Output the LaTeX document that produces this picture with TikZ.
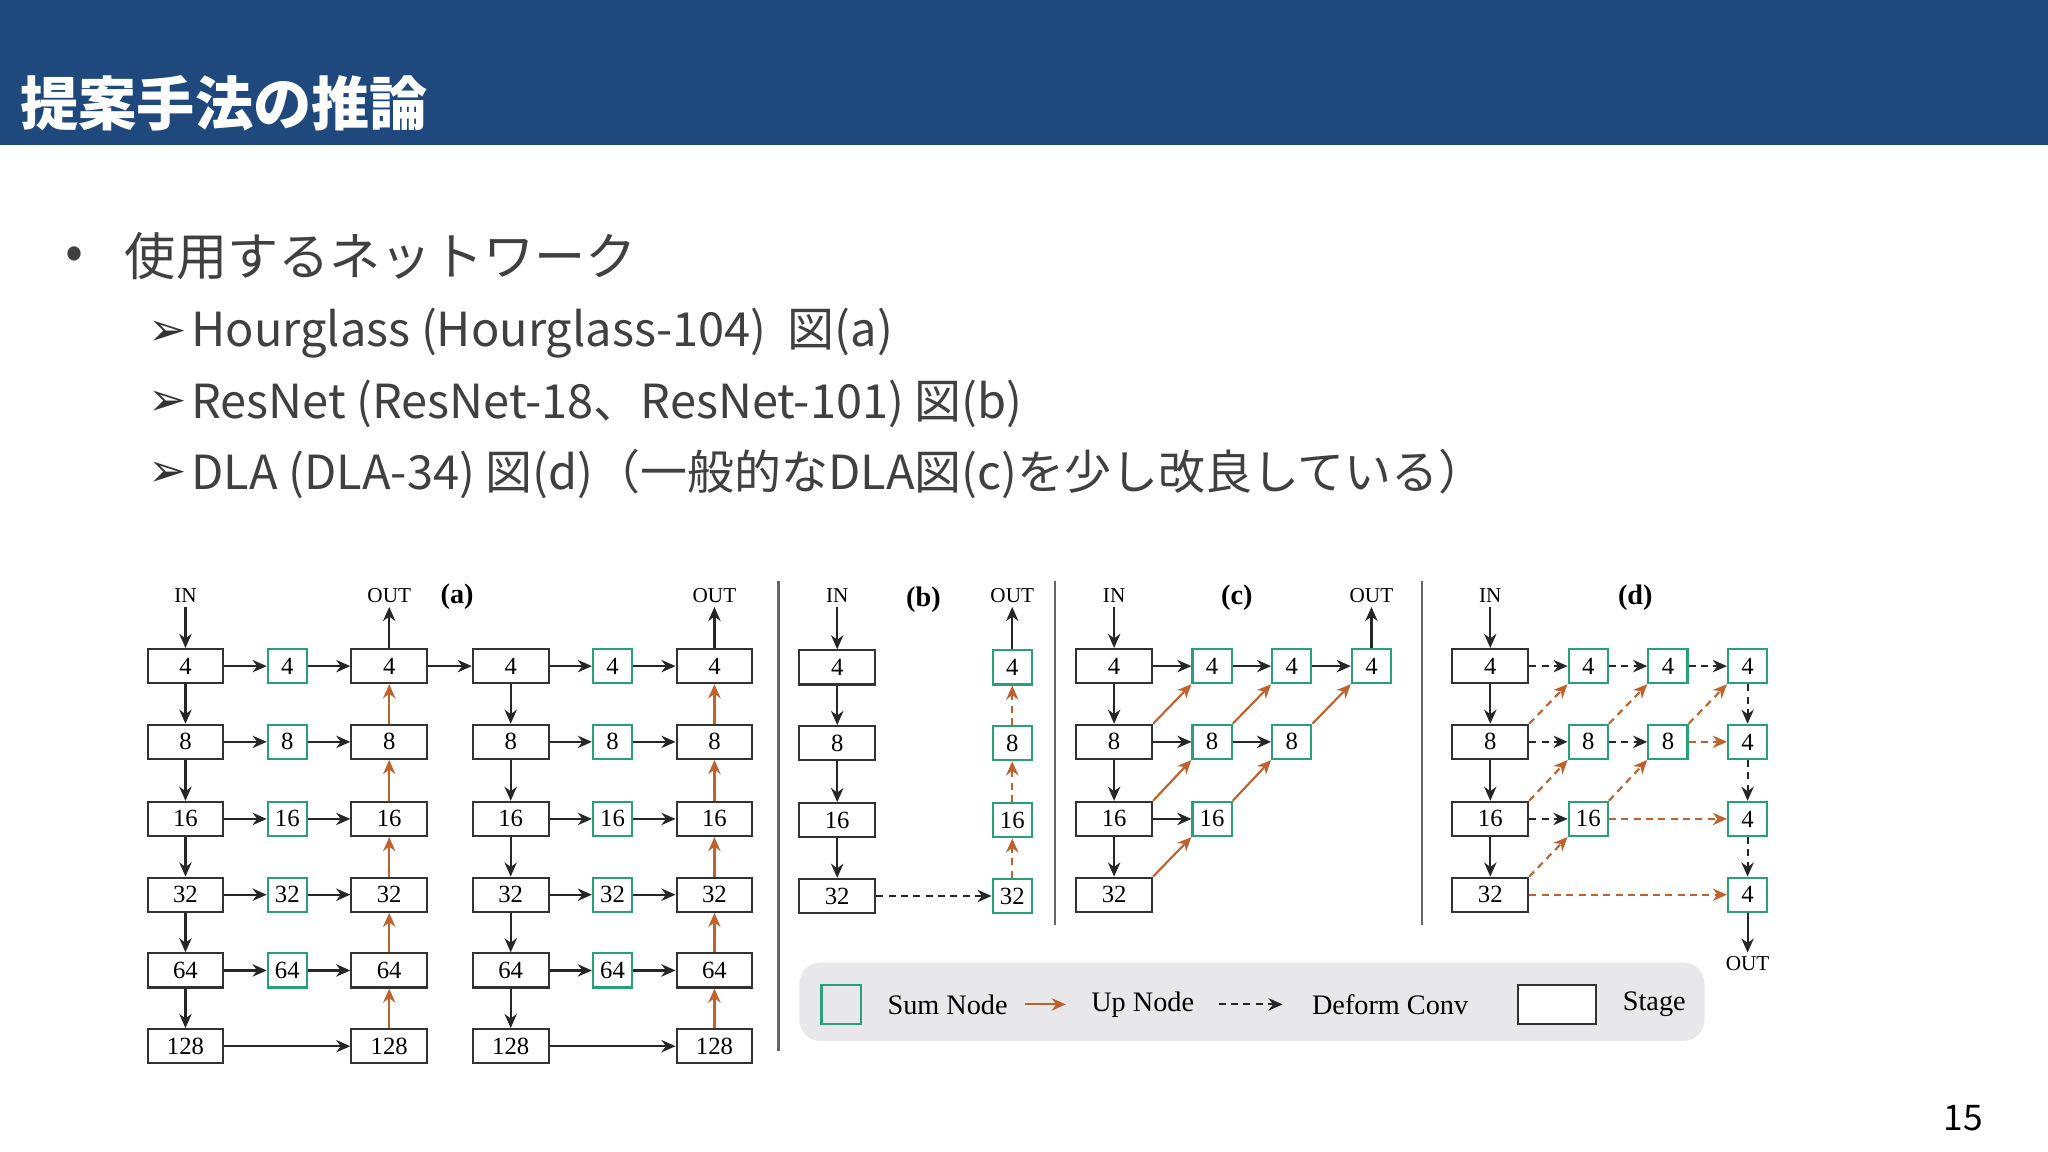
\documentclass[tikz,border=0pt]{standalone}
\usepackage{fontspec}
\usetikzlibrary{arrows.meta}
\newfontfamily\jp{Noto Sans CJK JP}
\newfontfamily\dv{DejaVu Sans}
\newfontfamily\srf{Liberation Serif}
\definecolor{hdr}{RGB}{31,73,125}
\definecolor{grn}{RGB}{40,160,120}
\definecolor{org}{RGB}{192,98,46}
\definecolor{lg}{RGB}{232,232,235}
\begin{document}
\begin{tikzpicture}[x=0.013cm,y=-0.013cm,
 stage/.style={draw=black!80,line width=0.6pt,minimum width=0.754cm,minimum height=0.34cm,inner sep=0pt,font=\srf\fontsize{7}{8}\selectfont},
 sum/.style={draw=grn,line width=0.6pt,minimum width=0.39cm,minimum height=0.34cm,inner sep=0pt,font=\srf\fontsize{7}{8}\selectfont},
 lab/.style={font=\srf\fontsize{6}{7}\selectfont,inner sep=1pt},
 ttl/.style={font=\srf\bfseries\fontsize{8}{9}\selectfont},
 ar/.style={-{Stealth[length=4pt,width=3.5pt]},line width=0.6pt,black!85},
 up/.style={-{Stealth[length=4pt,width=3.5pt]},line width=0.6pt,org},
 dar/.style={ar,dashed,dash pattern=on 2pt off 1.5pt},
 dup/.style={up,dashed,dash pattern=on 2pt off 1.5pt},
 sep/.style={line width=0.6pt,black!60},
 leg/.style={anchor=west,font=\srf\fontsize{8}{9}\selectfont}]
\useasboundingbox (0,0) rectangle (1568,882);
\fill[white] (0,0) rectangle (1568,882);
\fill[hdr] (0,0) rectangle (1568,111);
\node[anchor=west,text=white,font=\jp\bfseries\fontsize{16.5}{20}\selectfont] (title) at (6,79) {提案手法の推論};
\node[font=\jp\fontsize{15}{18}\selectfont,text=black!75] (bul) at (57,198) {•};
\node[anchor=west,font=\jp\fontsize{14.5}{18}\selectfont,text=black!75] (t0) at (86,196) {使用するネットワーク};
\foreach \yy/\tx [count=\k] in {255/{Hourglass (Hourglass-104)\ \ 図(a)},309/{ResNet (ResNet-18、ResNet-101) 図(b)},363/{DLA (DLA-34) 図(d)（一般的なDLA図(c)を少し改良している）}}{
 \node[anchor=west,font=\dv\bfseries\fontsize{13}{14}\selectfont,text=black!80] (ab\k) at (104,\yy) {➢};
 \node[anchor=west,font=\jp\fontsize{13.3}{16}\selectfont,text=black!75,inner sep=0pt] (st\k) at (146,\yy) {\tx};
}
\node[font=\jp\fontsize{10}{12}\selectfont] (pg) at (1503,856) {15};
% separators
\draw[sep] (596,445) -- (596,805);
\draw[sep] (808,445) -- (808,708);
\draw[sep] (1089,445) -- (1089,708);
% (a)
\foreach \v/\y [count=\i] in {4/510,8/568,16/627,32/685,64/743,128/801}{
 \node[stage] (aS\i) at (142,\y) {\v};
 \node[stage] (aO\i) at (298,\y) {\v};
 \node[stage] (hS\i) at (391,\y) {\v};
 \node[stage] (hO\i) at (547,\y) {\v};
}
\foreach \v/\y [count=\i] in {4/510,8/568,16/627,32/685,64/743}{
 \node[sum] (aG\i) at (220,\y) {\v};
 \node[sum] (hG\i) at (469,\y) {\v};
 \draw[ar] (aS\i) -- (aG\i); \draw[ar] (aG\i) -- (aO\i);
 \draw[ar] (hS\i) -- (hG\i); \draw[ar] (hG\i) -- (hO\i);
}
\foreach \i/\j in {1/2,2/3,3/4,4/5,5/6}{
 \draw[ar] (aS\i) -- (aS\j); \draw[ar] (hS\i) -- (hS\j);
 \draw[up] (aO\j) -- (aO\i); \draw[up] (hO\j) -- (hO\i);
}
\draw[ar] (aS6) -- (aO6); \draw[ar] (hS6) -- (hO6);
\draw[ar] (aO1) -- (hS1);
\node[lab] (aIN) at (142,456) {IN};
\node[lab] (aOUT) at (298,456) {OUT};
\node[lab] (hOUT) at (547,456) {OUT};
\node[ttl] (la) at (350,457) {(a)};
\draw[ar] (aIN) -- (aS1); \draw[ar] (aO1) -- (aOUT); \draw[ar] (hO1) -- (hOUT);
% (b)
\foreach \v/\y [count=\i] in {4/511,8/569,16/628,32/686}{
 \node[stage] (bS\i) at (641,\y) {\v};
 \node[sum] (bG\i) at (775,\y) {\v};
}
\foreach \i/\j in {1/2,2/3,3/4}{\draw[ar] (bS\i) -- (bS\j); \draw[dup] (bG\j) -- (bG\i);}
\draw[dar] (bS4) -- (bG4);
\node[lab] (bIN) at (641,456) {IN};
\node[lab] (bOUT) at (775,456) {OUT};
\node[ttl] (lb) at (707,459) {(b)};
\draw[ar] (bIN) -- (bS1); \draw[ar] (bG1) -- (bOUT);
% (c)
\foreach \v/\y [count=\i] in {4/510,8/568,16/627,32/685}{\node[stage] (cS\i) at (853,\y) {\v};}
\node[sum] (c11) at (928,510) {4}; \node[sum] (c12) at (989,510) {4}; \node[sum] (c13) at (1050,510) {4};
\node[sum] (c21) at (928,568) {8}; \node[sum] (c22) at (989,568) {8};
\node[sum] (c31) at (928,627) {16};
\foreach \i/\j in {1/2,2/3,3/4}{\draw[ar] (cS\i) -- (cS\j);}
\draw[ar] (cS1) -- (c11); \draw[ar] (c11) -- (c12); \draw[ar] (c12) -- (c13);
\draw[ar] (cS2) -- (c21); \draw[ar] (c21) -- (c22);
\draw[ar] (cS3) -- (c31);
\draw[up] (cS2.north east) -- (c11.south west);
\draw[up] (cS3.north east) -- (c21.south west);
\draw[up] (cS4.north east) -- (c31.south west);
\draw[up] (c21.north east) -- (c12.south west);
\draw[up] (c31.north east) -- (c22.south west);
\draw[up] (c22.north east) -- (c13.south west);
\node[lab] (cIN) at (853,456) {IN};
\node[lab] (cOUT) at (1050,456) {OUT};
\node[ttl] (lc) at (947,458) {(c)};
\draw[ar] (cIN) -- (cS1); \draw[ar] (c13) -- (cOUT);
% (d)
\foreach \v/\y [count=\i] in {4/510,8/568,16/627,32/685}{\node[stage] (dS\i) at (1141,\y) {\v};}
\node[sum] (d11) at (1216,510) {4}; \node[sum] (d12) at (1277,510) {4}; \node[sum] (d13) at (1338,510) {4};
\node[sum] (d21) at (1216,568) {8}; \node[sum] (d22) at (1277,568) {8}; \node[sum] (d23) at (1338,568) {4};
\node[sum] (d31) at (1216,627) {16}; \node[sum] (d33) at (1338,627) {4};
\node[sum] (d43) at (1338,685) {4};
\foreach \i/\j in {1/2,2/3,3/4}{\draw[ar] (dS\i) -- (dS\j);}
\draw[dar] (dS1) -- (d11); \draw[dar] (d11) -- (d12); \draw[dar] (d12) -- (d13);
\draw[dar] (dS2) -- (d21); \draw[dar] (d21) -- (d22); \draw[dup] (d22) -- (d23);
\draw[dar] (dS3) -- (d31); \draw[dup] (d31) -- (d33);
\draw[dup] (dS4) -- (d43);
\draw[dup] (dS2.north east) -- (d11.south west);
\draw[dup] (dS3.north east) -- (d21.south west);
\draw[dup] (dS4.north east) -- (d31.south west);
\draw[dup] (d21.north east) -- (d12.south west);
\draw[dup] (d31.north east) -- (d22.south west);
\draw[dup] (d22.north east) -- (d13.south west);
\draw[dar] (d13) -- (d23); \draw[dar] (d23) -- (d33); \draw[dar] (d33) -- (d43);
\node[lab] (dIN) at (1141,456) {IN};
\node[lab] (dOUT) at (1338,738) {OUT};
\node[ttl] (ld) at (1252,458) {(d)};
\draw[ar] (dIN) -- (dS1); \draw[ar] (d43) -- (dOUT);
% legend
\fill[lg,rounded corners=6pt] (612,737) rectangle (1305,797);
\node[draw=grn,line width=0.7pt,minimum width=0.39cm,minimum height=0.39cm,inner sep=0pt] (lgS) at (644,769) {};
\node[leg] (lgSt) at (670,769) {Sum Node};
\coordinate (lu1) at (785,769); \coordinate (lu2) at (816,769);
\draw[up] (lu1) -- (lu2);
\node[leg] (lgUt) at (826,769) {Up Node};
\coordinate (ld1) at (933,769); \coordinate (ld2) at (982,769);
\draw[dar] (ld1) -- (ld2);
\node[leg] (lgDt) at (995,769) {Deform Conv};
\node[draw=black!80,fill=white,line width=0.6pt,minimum width=0.78cm,minimum height=0.39cm,inner sep=0pt] (lgB) at (1192,769) {};
\node[leg] (lgBt) at (1233,769) {Stage};
\end{tikzpicture}
\end{document}
